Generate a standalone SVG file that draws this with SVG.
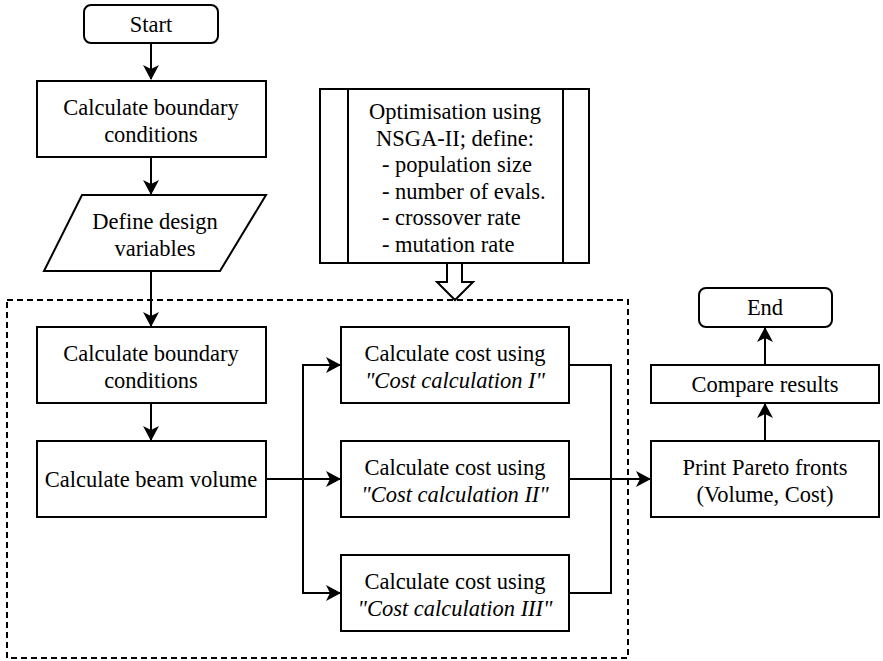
<svg xmlns="http://www.w3.org/2000/svg" width="883" height="661" viewBox="0 0 883 661">
<style>
.box{fill:#fff;stroke:#000;stroke-width:2}
.t{font-family:"Liberation Serif","Times New Roman",serif;font-size:22.5px;fill:#000;text-anchor:middle}
.l{text-anchor:start}
.i{font-style:italic}
.c{fill:none;stroke:#000;stroke-width:2}
.d{fill:none;stroke:#000;stroke-width:2;stroke-dasharray:6 4}
</style>
<defs>
<marker id="ah" markerWidth="16" markerHeight="16" refX="14" refY="8" orient="auto" markerUnits="userSpaceOnUse">
<path d="M0,0 L15,8 L0,16 L4,8 Z" fill="#000"/>
</marker>
</defs>
<rect width="883" height="661" fill="#fff"/>
<g id="group-loop">
<rect class="d" x="7" y="300" width="621" height="358"/>
</g>
<g id="connectors">
<path class="c" d="M151,43 V79" marker-end="url(#ah)"/>
<path class="c" d="M151,157 V194" marker-end="url(#ah)"/>
<path class="c" d="M151,271 V326" marker-end="url(#ah)"/>
<path class="c" d="M151,403 V440" marker-end="url(#ah)"/>
<path class="c" d="M266,479 H340" marker-end="url(#ah)"/>
<path class="c" d="M303,479 V365 H340" marker-end="url(#ah)"/>
<path class="c" d="M303,479 V593 H340" marker-end="url(#ah)"/>
<path class="c" d="M569,365 H611 V593 H569"/>
<path class="c" d="M569,479 H650" marker-end="url(#ah)"/>
<path class="c" d="M765,441 V404" marker-end="url(#ah)"/>
<path class="c" d="M765,365 V328" marker-end="url(#ah)"/>
<path class="box" d="M447,263 V282 H437 L455,300 L473,282 H462 V263"/>
</g>
<g id="start">
<rect class="box" x="84" y="5" width="134" height="38" rx="7"/>
<text class="t" x="151" y="32">Start</text>
</g>
<g id="calc-bc-1">
<rect class="box" x="37" y="81" width="229" height="76"/>
<text class="t" x="151" y="115">Calculate boundary</text>
<text class="t" x="151" y="142">conditions</text>
</g>
<g id="define-vars">
<path class="box" d="M82,195 H266 L220,271 H44 Z"/>
<text class="t" x="155" y="229">Define design</text>
<text class="t" x="155" y="256">variables</text>
</g>
<g id="optimisation">
<rect class="box" x="320" y="89" width="269" height="174"/>
<line class="c" x1="348" y1="89" x2="348" y2="263"/>
<line class="c" x1="563" y1="89" x2="563" y2="263"/>
<text class="t" x="455" y="119">Optimisation using</text>
<text class="t" x="455" y="146">NSGA-II; define:</text>
<text class="t l" x="382" y="172">- population size</text>
<text class="t l" x="382" y="199">- number of evals.</text>
<text class="t l" x="382" y="225">- crossover rate</text>
<text class="t l" x="382" y="252">- mutation rate</text>
</g>
<g id="calc-bc-2">
<rect class="box" x="37" y="327" width="229" height="76"/>
<text class="t" x="151" y="361">Calculate boundary</text>
<text class="t" x="151" y="388">conditions</text>
</g>
<g id="beam-volume">
<rect class="box" x="37" y="441" width="229" height="76"/>
<text class="t" x="151" y="487">Calculate beam volume</text>
</g>
<g id="cost-1">
<rect class="box" x="341" y="327" width="228" height="76"/>
<text class="t" x="455" y="361">Calculate cost using</text>
<text class="t i" x="455" y="388">"Cost calculation I"</text>
</g>
<g id="cost-2">
<rect class="box" x="341" y="441" width="228" height="76"/>
<text class="t" x="455" y="475">Calculate cost using</text>
<text class="t i" x="455" y="502">"Cost calculation II"</text>
</g>
<g id="cost-3">
<rect class="box" x="341" y="555" width="228" height="76"/>
<text class="t" x="455" y="589">Calculate cost using</text>
<text class="t i" x="455" y="616">"Cost calculation III"</text>
</g>
<g id="print-pareto">
<rect class="box" x="651" y="441" width="228" height="76"/>
<text class="t" x="765" y="475">Print Pareto fronts</text>
<text class="t" x="765" y="502">(Volume, Cost)</text>
</g>
<g id="compare">
<rect class="box" x="651" y="365" width="228" height="38"/>
<text class="t" x="765" y="392">Compare results</text>
</g>
<g id="end">
<rect class="box" x="699" y="288" width="133" height="39" rx="7"/>
<text class="t" x="765" y="315">End</text>
</g>
</svg>
